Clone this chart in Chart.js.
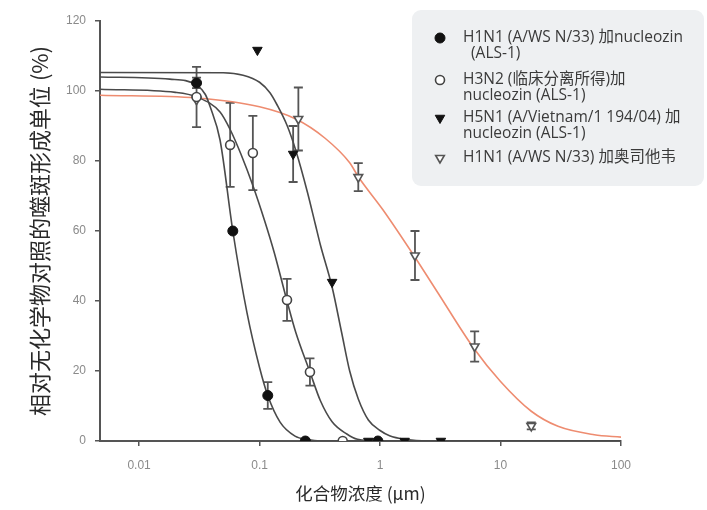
<!DOCTYPE html>
<html>
<head>
<meta charset="utf-8">
<script src="https://cdn.jsdelivr.net/npm/chart.js@4.4.1/dist/chart.umd.min.js"></script>
<style>
  html, body { margin: 0; padding: 0; background: #ffffff; }
  #wrap { width: 707px; height: 510px; position: relative; }
</style>
</head>
<body>
<div id="wrap"><canvas id="c" width="707" height="510"></canvas></div>
<script>
// ---- Measured points: concentration (µM) vs. plaque units relative to no-compound control (%) ----
const h1n1NucX   = [0.03, 0.06, 0.117, 0.24, 0.96];
const h1n1NucY   = [102.3, 60, 13, 0, 0];
const h1n1NucErr = [1.5, 0, 3.8, 0, 0];

const h3n2NucX   = [0.03, 0.057, 0.088, 0.169, 0.262, 0.49];
const h3n2NucY   = [98.3, 84.6, 82.3, 40.3, 19.7, 0];
const h3n2NucErr = [8.6, 12, 10.6, 6, 3.9, 0];

const h5n1NucX   = [0.096, 0.19, 0.40, 0.8, 1.6, 3.2];
const h5n1NucY   = [111.7, 82, 45.4, 0, 0, 0];
const h5n1NucErr = [0, 8, 0, 0, 0, 0];

const h1n1OselX   = [0.03, 0.21, 0.66, 1.95, 6.1, 18];
const h1n1OselY   = [97.5, 92, 75.4, 53, 27, 4.3];
const h1n1OselErr = [0, 9, 4, 7, 4.3, 1];

// ---- Fitted dose-response curves (sampled) ----
const h1n1NucFitX = [0.00474, 0.018, 0.03, 0.0355, 0.039, 0.047, 0.06, 0.0787, 0.1, 0.117, 0.148, 0.197, 0.25, 0.32, 1, 100];
const h1n1NucFitY = [104, 103.4, 101.7, 99, 95.4, 86, 60, 36.6, 21, 13, 5.4, 1.4, 0.4, 0, 0, 0];

const h3n2NucFitX = [0.00474, 0.02, 0.03, 0.047, 0.057, 0.07, 0.088, 0.11, 0.132, 0.169, 0.2, 0.262, 0.32, 0.4, 0.53, 0.65, 1, 100];
const h3n2NucFitY = [100.5, 99.6, 98.3, 94, 89, 82, 73, 63, 54, 40, 31, 19.7, 11.5, 5.5, 2, 0.5, 0, 0];

const h5n1NucFitX = [0.00474, 0.05, 0.073, 0.1, 0.122, 0.14, 0.17, 0.2, 0.25, 0.29, 0.32, 0.4, 0.48, 0.56, 0.66, 0.8, 1.0, 1.2, 1.6, 2.5, 100];
const h5n1NucFitY = [105.3, 105.2, 104.5, 102.5, 99.5, 96, 90, 83, 71, 62, 56, 44, 31, 20, 12, 6, 3, 1.5, 0.5, 0, 0];

const h1n1OselFitX = [0.00474, 0.03, 0.1, 0.2, 0.35, 0.56, 0.66, 1.06, 1.95, 3, 6, 10, 18, 30, 60, 100];
const h1n1OselFitY = [98.8, 98, 95.5, 92, 86.5, 79.5, 75.5, 66, 52.5, 42.5, 26.5, 17, 8.5, 4.2, 1.8, 1.1];

// ---- Axis ticks and text ----
const xTickValues = [0.01, 0.1, 1, 10, 100];
const xTickLabels = ['0.01', '0.1', '1', '10', '100'];
const yTickValues = [0, 20, 40, 60, 80, 100, 120];
const xTitle = '化合物浓度 (μm)';
const yTitle = '相对无化学物对照的噬斑形成单位 (%)';
const legendTexts = [
  ['H1N1 (A/WS N/33) 加nucleozin', '  (ALS-1)'],
  ['H3N2 (临床分离所得)加', 'nucleozin (ALS-1)'],
  ['H5N1 (A/Vietnam/1 194/04) 加', 'nucleozin (ALS-1)'],
  ['H1N1 (A/WS N/33) 加奥司他韦']
];

const zip = (xs, ys) => xs.map((x, i) => ({ x, y: ys[i] }));

const DARK = '#4a4a4a';
const ORANGE = 'rgb(238,140,112)';

function curve(xs, ys, color) {
  return {
    type: 'line',
    data: zip(xs, ys),
    borderColor: color,
    borderWidth: 1.6,
    pointRadius: 0,
    showLine: true,
    fill: false,
    cubicInterpolationMode: 'monotone',
    order: 5
  };
}

function points(xs, ys, errs, style) {
  return Object.assign({
    type: 'scatter',
    data: zip(xs, ys),
    errors: errs,
    showLine: false,
    order: 1
  }, style);
}

const styles = [
  { pointStyle: 'circle', pointRadius: 5, pointBackgroundColor: '#111', pointBorderColor: '#111', pointBorderWidth: 1, pointRotation: 0 },
  { pointStyle: 'circle', pointRadius: 4.5, pointBackgroundColor: '#fff', pointBorderColor: '#444', pointBorderWidth: 1.6, pointRotation: 0 },
  { pointStyle: 'triangle', pointRadius: 5.5, pointBackgroundColor: '#111', pointBorderColor: '#111', pointBorderWidth: 1, pointRotation: 180 },
  { pointStyle: 'triangle', pointRadius: 5, pointBackgroundColor: '#fff', pointBorderColor: '#555', pointBorderWidth: 1.6, pointRotation: 180 }
];

// Vertical error bars with caps, drawn through the chart's own scales
const errorBars = {
  id: 'errorBars',
  beforeDatasetsDraw(chart) {
    const { ctx, scales: { x, y } } = chart;
    ctx.save();
    ctx.strokeStyle = '#555';
    ctx.lineWidth = 1.8;
    chart.data.datasets.forEach(ds => {
      if (!ds.errors) return;
      ds.data.forEach((p, i) => {
        const e = ds.errors[i];
        if (!e) return;
        const px = x.getPixelForValue(p.x);
        const top = y.getPixelForValue(p.y + e);
        const bot = y.getPixelForValue(p.y - e);
        ctx.beginPath();
        ctx.moveTo(px, top); ctx.lineTo(px, bot);
        ctx.moveTo(px - 4.5, top); ctx.lineTo(px + 4.5, top);
        ctx.moveTo(px - 4.5, bot); ctx.lineTo(px + 4.5, bot);
        ctx.stroke();
      });
    });
    ctx.restore();
  }
};

// Legend panel with wrapped labels
const legendPanel = {
  id: 'legendPanel',
  afterDraw(chart) {
    const ctx = chart.ctx;
    ctx.save();
    const bx = 412, by = 10, bw = 292, bh = 176, r = 9;
    ctx.fillStyle = '#eef0f2';
    ctx.beginPath();
    ctx.moveTo(bx + r, by);
    ctx.arcTo(bx + bw, by, bx + bw, by + bh, r);
    ctx.arcTo(bx + bw, by + bh, bx, by + bh, r);
    ctx.arcTo(bx, by + bh, bx, by, r);
    ctx.arcTo(bx, by, bx + bw, by, r);
    ctx.closePath();
    ctx.fill();

    const rowTops = [38, 80, 118, 158];
    const lineGap = 16;
    ctx.font = '15.5px "Open Sans", "Noto Sans CJK SC", sans-serif';
    ctx.textBaseline = 'middle';
    ctx.textAlign = 'left';
    legendTexts.forEach((lines, k) => {
      const st = styles[k];
      ctx.fillStyle = st.pointBackgroundColor;
      ctx.strokeStyle = st.pointBorderColor;
      ctx.lineWidth = st.pointBorderWidth;
      Chart.helpers.drawPoint(ctx, {
        pointStyle: st.pointStyle,
        radius: st.pointRadius,
        rotation: st.pointRotation,
        borderWidth: st.pointBorderWidth
      }, 440, rowTops[k]);
      ctx.fillStyle = '#3a3a3a';
      lines.forEach((t, j) => ctx.fillText(t, 463, rowTops[k] + j * lineGap));
    });
    ctx.restore();
  }
};

new Chart(document.getElementById('c'), {
  type: 'scatter',
  data: {
    datasets: [
      points(h1n1NucX, h1n1NucY, h1n1NucErr, styles[0]),
      points(h3n2NucX, h3n2NucY, h3n2NucErr, styles[1]),
      points(h5n1NucX, h5n1NucY, h5n1NucErr, styles[2]),
      points(h1n1OselX, h1n1OselY, h1n1OselErr, styles[3]),
      curve(h1n1NucFitX, h1n1NucFitY, DARK),
      curve(h3n2NucFitX, h3n2NucFitY, DARK),
      curve(h5n1NucFitX, h5n1NucFitY, DARK),
      curve(h1n1OselFitX, h1n1OselFitY, ORANGE)
    ]
  },
  options: {
    responsive: false,
    animation: false,
    devicePixelRatio: 1,
    layout: { padding: { left: 0, right: 86, top: 21, bottom: 0 } },
    plugins: { legend: { display: false }, tooltip: { enabled: false } },
    scales: {
      x: {
        type: 'logarithmic',
        min: 0.00474,
        max: 100,
        afterFit: s => { s.height = 69; },
        afterBuildTicks: s => { s.ticks = xTickValues.map(v => ({ value: v })); },
        ticks: {
          callback: (v) => { const i = xTickValues.indexOf(v); return i >= 0 ? xTickLabels[i] : ''; },
          color: '#8a8a8a',
          font: { family: 'Liberation Sans, Arial, sans-serif', size: 12 },
          padding: 12,
          maxRotation: 0,
          autoSkip: false
        },
        grid: { drawOnChartArea: false, drawTicks: true, tickLength: 5, color: '#555', lineWidth: 1.5 },
        border: { display: true, color: '#555', width: 2 },
        title: {
          display: true,
          text: xTitle,
          color: '#2a2a2a',
          font: { family: '"Noto Sans CJK SC", sans-serif', size: 17.5 },
          padding: { top: 0, bottom: 6 }
        }
      },
      y: {
        min: 0,
        max: 120,
        afterFit: s => { s.width = 100; },
        afterBuildTicks: s => { s.ticks = yTickValues.map(v => ({ value: v })); },
        ticks: {
          color: '#8a8a8a',
          font: { family: 'Liberation Sans, Arial, sans-serif', size: 12 },
          padding: 9
        },
        grid: { drawOnChartArea: false, drawTicks: true, tickLength: 5, color: '#555', lineWidth: 1.5 },
        border: { display: true, color: '#555', width: 2 },
        title: {
          display: true,
          text: yTitle,
          color: '#2a2a2a',
          font: { family: '"Noto Sans CJK SC", sans-serif', size: 22 },
          padding: { top: 26, bottom: 0 }
        }
      }
    }
  },
  plugins: [errorBars, legendPanel]
});
</script>
</body>
</html>
